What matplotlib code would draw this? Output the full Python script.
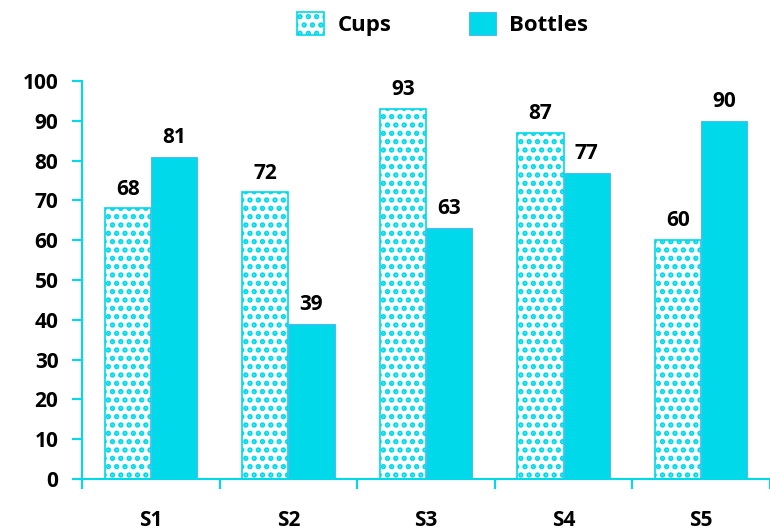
import matplotlib.pyplot as plt
import numpy as np

categories = ['S1', 'S2', 'S3', 'S4', 'S5']
cups = [68, 72, 93, 87, 60]
bottles = [81, 39, 63, 77, 90]

cyan = '#00D9EA'
plt.rcParams['font.family'] = ['Open Sans', 'DejaVu Sans']
plt.rcParams['hatch.color'] = cyan
plt.rcParams['hatch.linewidth'] = 2.6

fig = plt.figure(figsize=(7.7, 5.31), dpi=100)
ax = fig.add_axes([0.1065, 0.098, 0.8935, 0.7495])

x = np.arange(len(categories))
w = 0.336
b1 = ax.bar(x - w / 2, cups, w, facecolor='white', edgecolor=cyan, hatch='..', linewidth=1.2, label='Cups')
b2 = ax.bar(x + w / 2, bottles, w, color=cyan, edgecolor='#55B8F0', linewidth=0.8, label='Bottles')

for rect, v in zip(list(b1) + list(b2), cups + bottles):
    ax.text(rect.get_x() + rect.get_width() / 2, v + 2.2, str(v), ha='center', va='bottom',
            fontsize=15, fontweight='bold')

ax.set_xlim(-0.5, 4.41)
ax.set_ylim(0, 100)
ax.set_yticks(range(0, 101, 10))
ax.set_xticks(x, categories)
ax.set_xticks(np.arange(-0.5, 4.6, 1), minor=True)
ax.tick_params(axis='x', which='major', length=0, pad=22, labelsize=15)
ax.tick_params(axis='x', which='minor', length=7, color=cyan, width=1.5)
ax.tick_params(axis='y', length=7, color=cyan, width=1.5, labelsize=15, pad=10)
for lab in ax.get_yticklabels() + ax.get_xticklabels():
    lab.set_fontweight('bold')

for s in ['top', 'right']:
    ax.spines[s].set_visible(False)
for s in ['left', 'bottom']:
    ax.spines[s].set_color(cyan)
    ax.spines[s].set_linewidth(1.5)

leg = fig.legend(handles=[b1, b2], loc='upper center', bbox_to_anchor=(0.575, 1.015), ncol=2,
                 frameon=False, prop={'weight': 'bold', 'size': 16}, handlelength=1.2,
                 handleheight=1.2, columnspacing=3.5, handletextpad=0.6)

fig.savefig('out.png', dpi=100)
